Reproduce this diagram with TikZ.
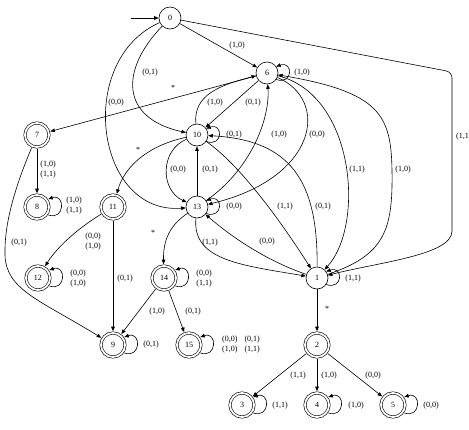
\documentclass[tikz,border=0pt]{standalone}
\usepackage{fontspec}
\setmainfont{Liberation Serif}
\usepackage{tikz}
\usetikzlibrary{arrows.meta}

\begin{document}
\begin{tikzpicture}[
    x=1pt, y=-1pt,
    state/.style={draw, circle, minimum size=22pt, inner sep=0pt,
                  line width=0.6pt, font=\fontsize{8}{9}\selectfont},
    final/.style={state, minimum size=24pt, double, double distance=1.8pt,
                  outer sep=1.8pt},
    elabel/.style={font=\fontsize{8}{10}\selectfont, inner sep=0pt,
                   align=center},
    arrow/.style={-{Triangle[length=4.5pt,width=3.6pt]}, line width=0.6pt},
    selfloop/.style={to path={(\tikztostart.-35) .. controls +(17,6)
                     and +(17,-6) .. (\tikztostart.35)}},
]
\useasboundingbox (0,0) rectangle (469,429);
% states
\node[state] (n0) at (170,18) {0};
\node[state] (n6) at (267,73) {6};
\node[final] (n7) at (37,135) {7};
\node[state] (n10) at (197,135) {10};
\node[final] (n8) at (37,207) {8};
\node[final] (n11) at (113,207) {11};
\node[state] (n13) at (197,207) {13};
\node[final] (n12) at (38,278) {12};
\node[final] (n14) at (164,278) {14};
\node[state] (n1) at (317,278) {1};
\node[final] (n9) at (113,345) {9};
\node[final] (n15) at (189,345) {15};
\node[final] (n2) at (317,345) {2};
\node[final] (n3) at (242,405) {3};
\node[final] (n4) at (317,405) {4};
\node[final] (n5) at (393,405) {5};
\coordinate (start) at (131,18);

% transitions
\draw[arrow] (start) -- (n0);
\draw[arrow] (n0) -- (n6);
\draw[arrow] (n0) .. controls (120,70) and (120,118) .. (n10);
\draw[arrow] (n0) .. controls (75,60) and (95,215) .. (n13);
\draw[arrow, rounded corners=6pt] (n0) -- (452,72) -- (452,225)
    .. controls (452,255) and (380,262) .. (n1);
\draw[arrow] (n6) to[selfloop] (n6);
\draw[arrow] (n6) -- (n7);
\draw[arrow] (n10) .. controls (193,95) and (220,85) .. (n6);
\draw[arrow] (n6) -- (n10);
\draw[arrow] (n10) to[selfloop] (n10);
\draw[arrow] (n13) .. controls (250,170) and (270,120) .. (n6);
\draw[arrow] (n6) .. controls (330,100) and (318,178) .. (n13);
\draw[arrow] (n6) .. controls (355,95) and (365,225) .. (n1);
\draw[arrow] (n1) .. controls (385,255) and (393,230) .. (392,170)
    .. controls (391,115) and (380,92) .. (n6);
\draw[arrow] (n10) .. controls (160,150) and (160,190) .. (n13);
\draw[arrow] (n13) -- (n10);
\draw[arrow] (n10) .. controls (150,145) and (125,165) .. (n11);
\draw[arrow] (n13) to[selfloop] (n13);
\draw[arrow] (n10) .. controls (240,165) and (280,220) .. (n1);
\draw[arrow] (n1) .. controls (318,180) and (290,140) .. (n10);
\draw[arrow] (n13) .. controls (170,225) and (163,240) .. (n14);
\draw[arrow] (n13) .. controls (192,260) and (240,265) .. (n1);
\draw[arrow] (n1) .. controls (270,262) and (235,240) .. (n13);
\draw[arrow] (n1) to[selfloop] (n1);
\draw[arrow] (n1) -- (n2);
\draw[arrow] (n2) -- (n3);
\draw[arrow] (n2) -- (n4);
\draw[arrow] (n2) -- (n5);
\draw[arrow] (n3) to[selfloop] (n3);
\draw[arrow] (n4) to[selfloop] (n4);
\draw[arrow] (n5) to[selfloop] (n5);
\draw[arrow] (n7) -- (n8);
\draw[arrow] (n8) to[selfloop] (n8);
\draw[arrow] (n7) .. controls (18,180) and (4,220) .. (5,255)
    .. controls (6,290) and (40,300) .. (n9);
\draw[arrow] (n11) .. controls (75,230) and (55,250) .. (n12);
\draw[arrow] (n12) to[selfloop] (n12);
\draw[arrow] (n11) -- (n9);
\draw[arrow] (n14) to[selfloop] (n14);
\draw[arrow] (n14) -- (n9);
\draw[arrow] (n14) -- (n15);
\draw[arrow] (n9) to[selfloop] (n9);
\draw[arrow] (n15) to[selfloop] (n15);

% labels
\node[elabel] (l0a) at (237,46) {(1,0)};
\node[elabel] (l0b) at (150,73) {(0,1)};
\node[elabel] (l0c) at (116,103) {(0,0)};
\node[elabel, anchor=west] (l0d) at (456,137) {(1,1)};
\node[elabel] (l6a) at (302,73) {(1,0)};
\node[elabel] (l6b) at (173,88) {*};
\node[elabel] (l10a) at (215,103) {(1,0)};
\node[elabel] (l6c) at (253,103) {(0,1)};
\node[elabel] (l10b) at (234,135) {(0,1)};
\node[elabel] (l13a) at (279,135) {(1,0)};
\node[elabel] (l6d) at (317,135) {(0,0)};
\node[elabel] (l6e) at (357,170) {(1,1)};
\node[elabel] (l1a) at (403,170) {(1,0)};
\node[elabel] (l10c) at (178,170) {(0,0)};
\node[elabel] (l13b) at (210,170) {(0,1)};
\node[elabel] (l10d) at (138,150) {*};
\node[elabel] (l13c) at (234,207) {(0,0)};
\node[elabel] (l10e) at (285,207) {(1,1)};
\node[elabel] (l1b) at (323,207) {(0,1)};
\node[elabel] (l13d) at (153,233) {*};
\node[elabel] (l13e) at (210,243) {(1,1)};
\node[elabel] (l1c) at (267,242) {(0,0)};
\node[elabel] (l1d) at (353,279) {(1,1)};
\node[elabel] (l1e) at (327,309) {*};
\node[elabel] (l2a) at (298,376) {(1,1)};
\node[elabel] (l2b) at (329,376) {(1,0)};
\node[elabel] (l2c) at (373,376) {(0,0)};
\node[elabel] (l3) at (280,406) {(1,1)};
\node[elabel] (l4) at (356,406) {(1,0)};
\node[elabel] (l5) at (431,406) {(0,0)};
\node[elabel] (l7a) at (48,170) {(1,0)\\(1,1)};
\node[elabel] (l8) at (74,206) {(1,0)\\(1,1)};
\node[elabel] (l7b) at (19,243) {(0,1)};
\node[elabel] (l11a) at (93,242) {(0,0)\\(1,0)};
\node[elabel] (l12) at (78,279) {(0,0)\\(1,0)};
\node[elabel] (l11b) at (125,279) {(0,1)};
\node[elabel] (l14a) at (204,279) {(0,0)\\(1,1)};
\node[elabel] (l14b) at (157,312) {(1,0)};
\node[elabel] (l14c) at (193,312) {(0,1)};
\node[elabel] (l9) at (151,345) {(0,1)};
\node[elabel] (l15) at (241,345) {(0,0)\hspace{7pt}(0,1)\\(1,0)\hspace{7pt}(1,1)};
\end{tikzpicture}
\end{document}
